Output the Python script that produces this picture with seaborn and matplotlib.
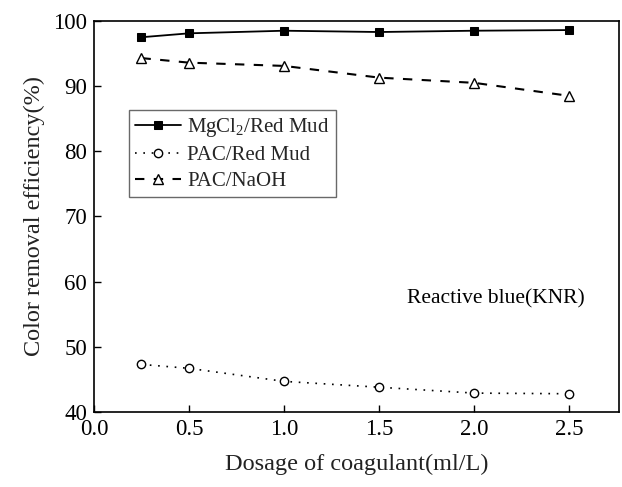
import matplotlib
matplotlib.use("Agg")
import matplotlib.pyplot as plt
import seaborn as sns
import pandas as pd

dosage = [0.25, 0.5, 1.0, 1.5, 2.0, 2.5]
mgcl2_red_mud = [97.5, 98.1, 98.5, 98.3, 98.5, 98.6]
pac_red_mud = [47.3, 46.7, 44.7, 43.8, 42.9, 42.8]
pac_naoh = [94.3, 93.6, 93.1, 91.3, 90.5, 88.5]
series_names = ["MgCl$_2$/Red Mud", "PAC/Red Mud", "PAC/NaOH"]

sns.set_theme(style="white")
plt.rcParams['font.family'] = ['Liberation Serif', 'DejaVu Serif']
plt.rcParams['mathtext.fontset'] = 'custom'
plt.rcParams['mathtext.rm'] = 'Liberation Serif'
plt.rcParams['mathtext.it'] = 'Liberation Serif'

fig = plt.figure(figsize=(6.22, 4.87), dpi=100)
ax = fig.add_axes([0.151, 0.154, 0.844, 0.803])

df = pd.DataFrame({"x": dosage, "a": mgcl2_red_mud, "b": pac_red_mud, "c": pac_naoh})

sns.lineplot(data=df, x="x", y="a", ax=ax, color="black", lw=1.3, marker="s",
             markersize=5.5, markerfacecolor="black", markeredgecolor="black",
             label=series_names[0])
sns.lineplot(data=df, x="x", y="b", ax=ax, color="black", lw=1.2, linestyle=(0, (1, 4)),
             marker="o", markersize=6, markerfacecolor="white", markeredgecolor="black",
             markeredgewidth=1.0, label=series_names[1])
sns.lineplot(data=df, x="x", y="c", ax=ax, color="black", lw=1.5, linestyle=(0, (4.5, 4.5)),
             marker="^", markersize=7, markerfacecolor="white", markeredgecolor="black",
             markeredgewidth=1.0, label=series_names[2])

ax.set_xlim(0.0, 2.76)
ax.set_ylim(40, 100)
ax.set_xticks([0.0, 0.5, 1.0, 1.5, 2.0, 2.5])
ax.set_yticks([40, 50, 60, 70, 80, 90, 100])
ax.set_xticklabels(["0.0", "0.5", "1.0", "1.5", "2.0", "2.5"])
ax.tick_params(direction="in", length=5, width=1, labelsize=16.5, colors="black",
               top=False, right=False, left=True, bottom=True, pad=5)
for s in ax.spines.values():
    s.set_color("black")
    s.set_linewidth(1.2)

ax.set_xlabel("Dosage of coagulant(ml/L)", fontsize=17.5, color="#222222", labelpad=10)
ax.set_ylabel("Color removal efficiency(%)", fontsize=17.5, color="#222222", labelpad=6)

ax.text(0.935, 0.29, "Reactive blue(KNR)", transform=ax.transAxes, fontsize=15.5,
        ha="right", va="center", color="black")

leg = ax.legend(loc="upper left", bbox_to_anchor=(0.067, 0.772), fontsize=15,
                frameon=True, fancybox=False, edgecolor="#444444",
                handlelength=2.2, borderpad=0.3, labelspacing=0.3, handletextpad=0.3,
                borderaxespad=0)
leg.get_frame().set_linewidth(1.0)

fig.savefig("out.png", dpi=100)
